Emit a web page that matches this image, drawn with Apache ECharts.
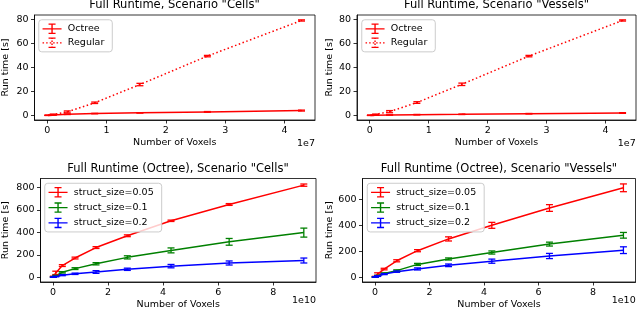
<!DOCTYPE html>
<html><head><meta charset="utf-8">
<script src="https://cdn.jsdelivr.net/npm/echarts@6/dist/echarts.min.js"></script>
<style>html,body{margin:0;padding:0;background:#fff}#c{width:640px;height:312px}</style>
</head><body><div id="c"></div>
<script>
// ---- data (x in units of 1e7 / 1e10 voxels, y in seconds) ----
const xTop = [0.0125, 0.1, 0.3375, 0.8, 1.5625, 2.7, 4.2875];
const cellsOctree = [0.05, 0.4, 1.0, 1.6, 2.2, 3.0, 4.1];
const cellsOctreeErr = [0.05, 0.1, 0.2, 0.2, 0.2, 0.3, 0.4];
const cellsRegular = [0.2, 0.9, 3.0, 10.6, 25.8, 49.5, 79.2];
const cellsRegularErr = [0.1, 0.3, 0.8, 0.6, 1.0, 0.6, 0.5];
const vesselsOctree = [0.05, 0.2, 0.4, 0.7, 1.0, 1.5, 2.1];
const vesselsOctreeErr = [0.05, 0.1, 0.1, 0.2, 0.2, 0.2, 0.3];
const vesselsRegular = [0.2, 0.9, 3.2, 10.8, 26.0, 49.5, 79.2];
const vesselsRegularErr = [0.1, 0.3, 0.9, 0.7, 1.0, 0.6, 0.5];

const xBottom = [0.0125, 0.1, 0.3375, 0.8, 1.5625, 2.7, 4.2875, 6.4, 9.1125];
const cells005 = [8, 40, 105, 172, 265, 370, 503, 648, 820];
const cells005Err = [3, 15, 8, 8, 8, 8, 6, 8, 10];
const cells01 = [4, 15, 45, 78, 121, 178, 240, 316, 398];
const cells01Err = [2, 4, 6, 8, 10, 14, 22, 30, 40];
const cells02 = [2, 8, 20, 32, 48, 72, 100, 128, 150];
const cells02Err = [1, 3, 5, 6, 12, 10, 15, 18, 22];
const vessels005 = [5, 25, 64, 128, 206, 297, 402, 536, 692];
const vessels005Err = [3, 10, 6, 8, 8, 16, 23, 26, 30];
const vessels01 = [3, 12, 30, 52, 100, 142, 192, 257, 325];
const vessels01Err = [2, 4, 5, 6, 8, 8, 12, 15, 22];
const vessels02 = [2, 10, 25, 44, 65, 93, 125, 165, 210];
const vessels02Err = [1, 3, 4, 5, 8, 10, 16, 20, 26];

const xTicksTop = [0, 1, 2, 3, 4];
const xTicksBottom = [0, 2, 4, 6, 8];
const yTicksTop = [0, 20, 40, 60, 80];
const yTicksBL = [0, 200, 400, 600, 800];
const yTicksBR = [0, 200, 400, 600];

const titles = ['Full Runtime, Scenario "Cells"', 'Full Runtime, Scenario "Vessels"',
  'Full Runtime (Octree), Scenario "Cells"', 'Full Runtime (Octree), Scenario "Vessels"'];
const topNames = ['Octree', 'Regular'];
const bottomNames = ['struct_size=0.05', 'struct_size=0.1', 'struct_size=0.2'];

// ---- styling ----
const FONT = 'DejaVu Sans';
const FS = 9.5;
const RED = '#ff0000', GREEN = '#008000', BLUE = '#0000ff';
const grids = [
  {left: 34, top: 15, width: 281, height: 105},
  {left: 357, top: 15, width: 279, height: 105},
  {left: 40, top: 178.5, width: 276, height: 103.5},
  {left: 362.5, top: 178.5, width: 273, height: 103.5}
];
const ICON_SOLID = 'path://M0,4.6H19V5.9H0Z M8.8,0H10.2V10.5H8.8Z M6,0H13V1.3H6Z M6,9.2H13V10.5H6Z';
const ICON_DOT = 'path://M0,4.6h1.5v1.3h-1.5Z M3.6,4.6h1.5v1.3h-1.5Z M7.2,4.6h1.5v1.3h-1.5Z M10.6,4.6h1.5v1.3h-1.5Z M14,4.6h1.5v1.3h-1.5Z M17.5,4.6h1.5v1.3h-1.5Z M8.8,0H10.2V1.5H8.8Z M8.8,3H10.2V4.5H8.8Z M8.8,6H10.2V7.5H8.8Z M8.8,9H10.2V10.5H8.8Z M6,0H13V1.3H6Z M6,9.2H13V10.5H6Z';

function xAxis(gi, min, max, ticks) {
  return {type: 'value', gridIndex: gi, min, max,
    name: 'Number of Voxels', nameLocation: 'middle', nameGap: 18,
    nameTextStyle: {fontFamily: FONT, fontSize: FS, color: '#000'},
    axisLine: {show: true, onZero: false, lineStyle: {color: '#000', width: 0.8}},
    axisTick: {show: true, length: 3.5, lineStyle: {color: '#000', width: 0.8}, customValues: ticks},
    axisLabel: {margin: 6, fontFamily: FONT, fontSize: FS, color: '#000', customValues: ticks},
    splitLine: {show: false}};
}
function yAxis(gi, min, max, ticks, gap) {
  return {type: 'value', gridIndex: gi, min, max,
    name: 'Run time [s]', nameLocation: 'middle', nameGap: gap,
    nameTextStyle: {fontFamily: FONT, fontSize: FS, color: '#000'},
    axisLine: {show: true, onZero: false, lineStyle: {color: '#000', width: 0.8}},
    axisTick: {show: true, length: 3.5, lineStyle: {color: '#000', width: 0.8}, customValues: ticks},
    axisLabel: {margin: 6, fontFamily: FONT, fontSize: FS, color: '#000', customValues: ticks},
    splitLine: {show: false}};
}
function lineSeries(name, gi, xs, ys, color, dotted) {
  return {type: 'line', name, xAxisIndex: gi, yAxisIndex: gi,
    data: xs.map((x, i) => [x, ys[i]]), symbol: 'none', showSymbol: false,
    lineStyle: {color, width: 1.5, type: dotted ? [1.5, 2.5] : 'solid'},
    itemStyle: {color}, z: 3, animation: false};
}
function errSeries(gi, xs, ys, es, color) {
  return {type: 'custom', name: 'err' + gi + color, xAxisIndex: gi, yAxisIndex: gi, silent: true, z: 4,
    data: xs.map((x, i) => [x, ys[i], es[i]]), animation: false,
    renderItem(params, api) {
      const x = api.value(0), y = api.value(1), e = api.value(2);
      const hi = api.coord([x, y + e]), lo = api.coord([x, y - e]);
      const hw = 3.5, st = {stroke: color, lineWidth: 1.3};
      return {type: 'group', children: [
        {type: 'line', shape: {x1: hi[0], y1: hi[1], x2: lo[0], y2: lo[1]}, style: st},
        {type: 'line', shape: {x1: hi[0] - hw, y1: hi[1], x2: hi[0] + hw, y2: hi[1]}, style: st},
        {type: 'line', shape: {x1: lo[0] - hw, y1: lo[1], x2: lo[0] + hw, y2: lo[1]}, style: st}
      ]};
    }};
}
function legend(data, left, top, gap) {
  return {data, left, top, orient: 'vertical', itemWidth: 21.6, itemHeight: 10.5, itemGap: gap,
    padding: [3.8, 8, 3.8, 3.8], backgroundColor: 'rgba(255,255,255,0.8)',
    borderColor: '#cccccc', borderWidth: 1, borderRadius: 3, selectedMode: false,
    itemStyle: {borderWidth: 0}, textStyle: {fontFamily: FONT, fontSize: FS, color: '#000'}};
}

const option = {
  backgroundColor: '#fff',
  animation: false,
  title: titles.map((t, i) => ({text: t, left: grids[i].left + grids[i].width / 2, textAlign: 'center',
    top: i < 2 ? -1 : 163.5, padding: 0,
    textStyle: {fontFamily: FONT, fontSize: 11.5, fontWeight: 'normal', color: '#000'}})),
  grid: grids.map(g => Object.assign({show: true, borderColor: '#000', borderWidth: 0.8, containLabel: false}, g)),
  xAxis: [xAxis(0, -0.215, 4.515, xTicksTop), xAxis(1, -0.215, 4.515, xTicksTop),
          xAxis(2, -0.455, 9.555, xTicksBottom), xAxis(3, -0.455, 9.555, xTicksBottom)],
  yAxis: [yAxis(0, -3.75, 83.75, yTicksTop, 23.5), yAxis(1, -3.75, 83.75, yTicksTop, 22.5),
          yAxis(2, -41, 879, yTicksBL, 29.5), yAxis(3, -36, 764, yTicksBR, 27)],
  legend: [
    legend([{name: topNames[0], icon: ICON_SOLID}, {name: topNames[1], icon: ICON_DOT}], 38.75, 19.75, 3.5),
    legend([{name: topNames[0], icon: ICON_SOLID}, {name: topNames[1], icon: ICON_DOT}], 361.75, 19.75, 3.5),
    legend(bottomNames.map(n => ({name: n, icon: ICON_SOLID})), 44.75, 183.25, 4.8),
    legend(bottomNames.map(n => ({name: n, icon: ICON_SOLID})), 367.25, 183.25, 4.8)
  ],
  graphic: [
    {type: 'text', right: 325, top: 138.5, style: {text: '1e7', font: FS + 'px "' + FONT + '"', fill: '#000'}},
    {type: 'text', right: 4.3, top: 138.5, style: {text: '1e7', font: FS + 'px "' + FONT + '"', fill: '#000'}},
    {type: 'text', right: 324, top: 295.5, style: {text: '1e10', font: FS + 'px "' + FONT + '"', fill: '#000'}},
    {type: 'text', right: 4.3, top: 295.5, style: {text: '1e10', font: FS + 'px "' + FONT + '"', fill: '#000'}}
  ],
  series: [
    lineSeries(topNames[0], 0, xTop, cellsOctree, RED, false),
    errSeries(0, xTop, cellsOctree, cellsOctreeErr, RED),
    lineSeries(topNames[1], 0, xTop, cellsRegular, RED, true),
    errSeries(0, xTop, cellsRegular, cellsRegularErr, RED),
    lineSeries(topNames[0], 1, xTop, vesselsOctree, RED, false),
    errSeries(1, xTop, vesselsOctree, vesselsOctreeErr, RED),
    lineSeries(topNames[1], 1, xTop, vesselsRegular, RED, true),
    errSeries(1, xTop, vesselsRegular, vesselsRegularErr, RED),
    lineSeries(bottomNames[0], 2, xBottom, cells005, RED, false),
    errSeries(2, xBottom, cells005, cells005Err, RED),
    lineSeries(bottomNames[1], 2, xBottom, cells01, GREEN, false),
    errSeries(2, xBottom, cells01, cells01Err, GREEN),
    lineSeries(bottomNames[2], 2, xBottom, cells02, BLUE, false),
    errSeries(2, xBottom, cells02, cells02Err, BLUE),
    lineSeries(bottomNames[0], 3, xBottom, vessels005, RED, false),
    errSeries(3, xBottom, vessels005, vessels005Err, RED),
    lineSeries(bottomNames[1], 3, xBottom, vessels01, GREEN, false),
    errSeries(3, xBottom, vessels01, vessels01Err, GREEN),
    lineSeries(bottomNames[2], 3, xBottom, vessels02, BLUE, false),
    errSeries(3, xBottom, vessels02, vessels02Err, BLUE)
  ]
};
const chart = echarts.init(document.getElementById('c'), null, {renderer: 'canvas'});
chart.setOption(option);
</script>
</body></html>
